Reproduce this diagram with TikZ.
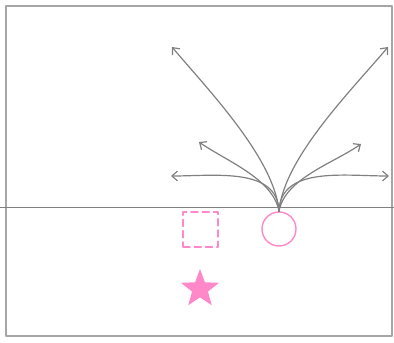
\documentclass[tikz,border=0pt]{standalone}
\usetikzlibrary{shapes.geometric,arrows.meta}
\definecolor{softpink}{RGB}{255,136,200}
\definecolor{arrowgray}{RGB}{128,128,128}
\begin{document}
\begin{tikzpicture}[x=0.025cm,y=0.025cm,line cap=round,line join=round,>={Straight Barb[length=4pt,width=7pt]}]
  \useasboundingbox (0,0) rectangle (394,342);
  \draw[line width=1.4pt,color=black!35] (6,6) rectangle (392,336);
  \draw[line width=0.7pt,color=black!50] (0,135) -- (394,135);
  \node[circle,draw=softpink,line width=1pt,minimum size=0.85cm,inner sep=0pt] (ball) at (279,113) {};
  \node[rectangle,draw=softpink,line width=1pt,dash pattern=on 5pt off 3pt,minimum size=0.875cm,inner sep=0pt] (cone) at (200.5,112.5) {};
  \node[star,star points=5,star point ratio=2.4,fill=softpink,minimum size=1cm,inner sep=0pt] (goal) at (200,53) {};
  \coordinate (tipUL) at (172,295);
  \coordinate (tipUR) at (388,295);
  \coordinate (tipML) at (199,200);
  \coordinate (tipMR) at (361,198);
  \coordinate (tipHL) at (171,166);
  \coordinate (tipHR) at (389,166);
  \begin{scope}[arrowgray,line width=0.85pt,->]
    \draw (ball.north) to[out=95,in=-50,looseness=0.7] (tipUL);
    \draw (ball.north) to[out=85,in=-130,looseness=0.7] (tipUR);
    \draw (ball.north) to[out=100,in=-35,looseness=0.8] (tipML);
    \draw (ball.north) to[out=80,in=-145,looseness=0.8] (tipMR);
    \draw (ball.north) to[out=92,in=0] (tipHL);
    \draw (ball.north) to[out=88,in=180] (tipHR);
  \end{scope}
\end{tikzpicture}
\end{document}
